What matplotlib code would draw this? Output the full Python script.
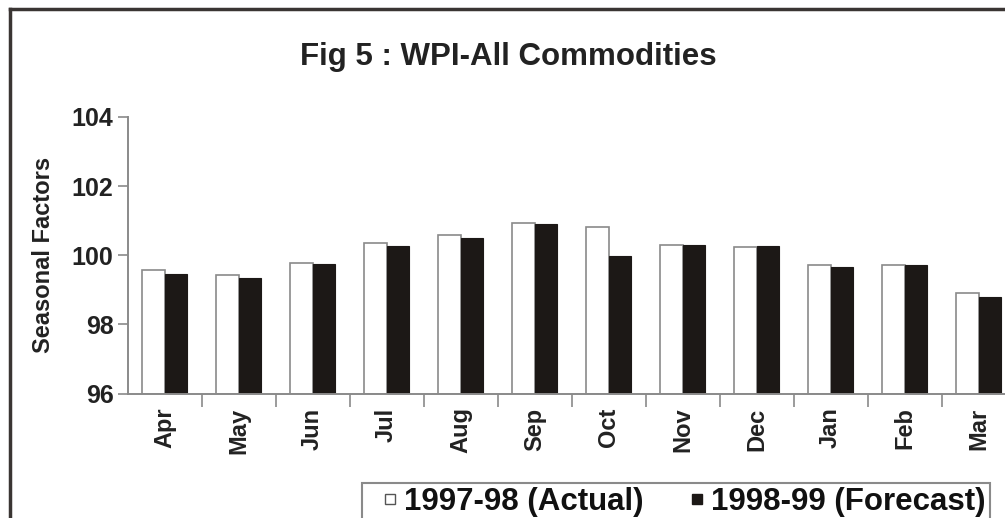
import numpy as np
import matplotlib
matplotlib.use("Agg")
import matplotlib.pyplot as plt
from matplotlib.patches import Rectangle
from matplotlib.lines import Line2D

# seasonal factors by month
meses = ['Apr', 'May', 'Jun', 'Jul', 'Aug', 'Sep', 'Oct', 'Nov', 'Dec', 'Jan', 'Feb', 'Mar']
actual_9798 = [99.56, 99.44, 99.79, 100.34, 100.58, 100.93, 100.82, 100.31, 100.24, 99.71, 99.71, 98.91]
forecast_9899 = [99.47, 99.34, 99.74, 100.27, 100.51, 100.91, 99.98, 100.29, 100.27, 99.66, 99.71, 98.79]
rotulos = ['1997-98 (Actual)', '1998-99 (Forecast)']
yticks = [96, 98, 100, 102, 104]

plt.rcParams['font.family'] = ['Liberation Sans', 'DejaVu Sans']
plt.rcParams['font.weight'] = 'bold'

fig = plt.figure(figsize=(10.05, 5.18), dpi=100)
# axes run past the right edge of the figure, so the last column is cut off
ax = fig.add_axes([127.5 / 1005, 1 - 393.5 / 518, 888 / 1005, 276.5 / 518])

x = np.arange(len(meses))
larg = 0.30
cinza = '#8a8a8a'
escuro = '#1c1816'
ax.bar(x - larg / 2, np.array(actual_9798) - 96, larg, bottom=96, color='white',
       edgecolor=cinza, linewidth=1.2, label=rotulos[0])
ax.bar(x + larg / 2, np.array(forecast_9899) - 96, larg, bottom=96, color=escuro,
       edgecolor=escuro, linewidth=0.8, label=rotulos[1])

ax.set_xlim(-0.5, len(meses) - 0.5)
ax.set_ylim(96, 104)
ax.set_yticks(yticks)
ax.set_yticklabels([str(v) for v in yticks], fontsize=18, fontweight='bold', color='#222222')
ax.set_xticks(x)
ax.set_xticklabels(meses, rotation=90, fontsize=17, fontweight='bold', color='#222222')
ax.tick_params(axis='x', length=0, pad=10)
ax.tick_params(axis='y', length=7, width=1.2, color=cinza, pad=3)
# tick marks between categories
ax.set_xticks(np.arange(len(meses)) + 0.5, minor=True)
ax.tick_params(axis='x', which='minor', length=9, width=1.2, color=cinza)

for lado in ['top', 'right']:
    ax.spines[lado].set_visible(False)
for lado in ['left', 'bottom']:
    ax.spines[lado].set_color(cinza)
    ax.spines[lado].set_linewidth(1.4)

ax.set_ylabel('Seasonal Factors', fontsize=17, fontweight='bold', labelpad=12, color='#222222')

fig.text(508 / 1005, 1 - 57 / 518, 'Fig 5 : WPI-All Commodities', ha='center', va='center',
         fontsize=22.5, fontweight='bold', color='#222222')

# legend box, cut by the bottom edge
fig.patches.append(Rectangle((362 / 1005, -0.05), 628 / 1005, 0.05 + (518 - 483) / 518,
                             transform=fig.transFigure, facecolor='white', edgecolor=cinza,
                             linewidth=1.5))
h1 = Line2D([], [], marker='s', linestyle='none', markersize=7, markerfacecolor='white',
            markeredgecolor='#555555', markeredgewidth=1)
h2 = Line2D([], [], marker='s', linestyle='none', markersize=7, markerfacecolor=escuro,
            markeredgecolor=escuro)
leg = fig.legend([h1, h2], rotulos, loc='center left', bbox_to_anchor=(368 / 1005, 1 - 502 / 518),
                 ncol=2, frameon=False, handlelength=0.4, handletextpad=0.25, columnspacing=1.5,
                 borderpad=0, prop={'size': 22.5, 'weight': 'bold'})
for t in leg.get_texts():
    t.set_color('#111111')

# outer frame (top and left edges)
fig.add_artist(Line2D([9.5 / 1005, 1.0], [1 - 9 / 518, 1 - 9 / 518], transform=fig.transFigure,
                      color='#3a3533', linewidth=2.5))
fig.add_artist(Line2D([9.5 / 1005, 9.5 / 1005], [0, 1 - 9 / 518], transform=fig.transFigure,
                      color='#3a3533', linewidth=2.5))

fig.savefig('out.png', dpi=100)
